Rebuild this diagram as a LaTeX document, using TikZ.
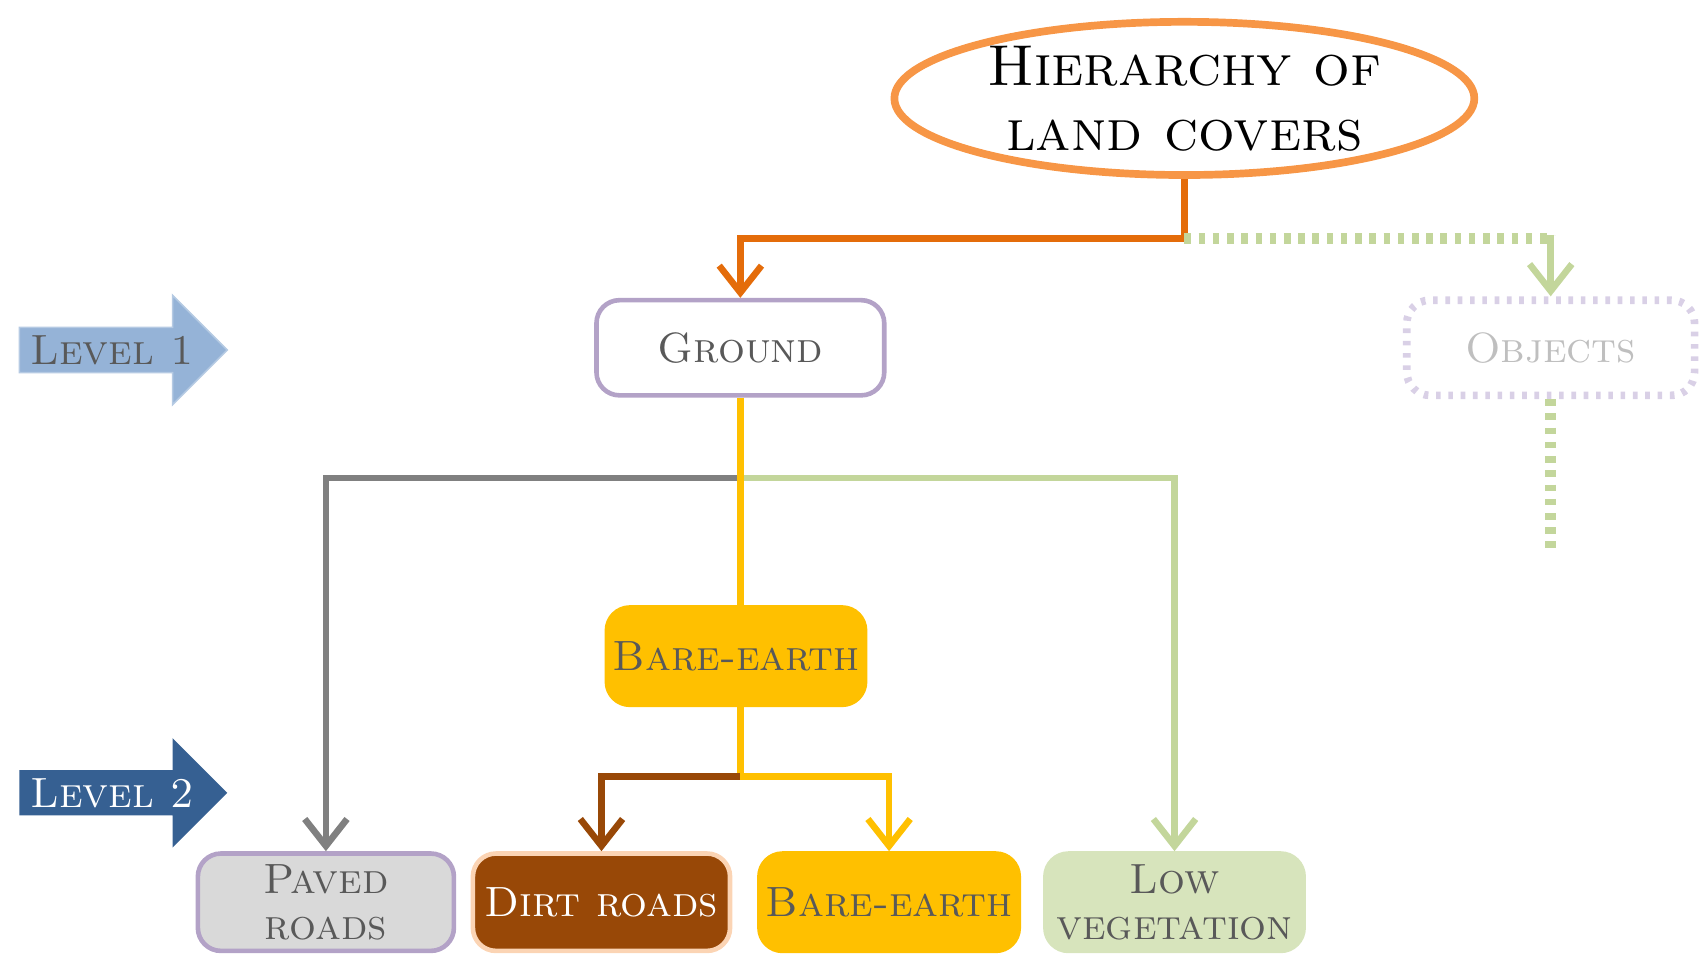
\documentclass[tikz,border=0pt]{standalone}
\usetikzlibrary{arrows.meta,shapes.geometric,shapes.arrows}
\definecolor{orng}{HTML}{F79646}
\definecolor{dorng}{HTML}{E46C0A}
\definecolor{lgreen}{HTML}{C3D69B}
\definecolor{lpurp}{HTML}{B3A2C7}
\definecolor{vlpurp}{HTML}{D9D0E6}
\definecolor{yell}{HTML}{FFC000}
\definecolor{brwn}{HTML}{984807}
\definecolor{lblue}{HTML}{95B3D7}
\definecolor{dblue}{HTML}{366092}
\definecolor{txtgrey}{HTML}{595959}
\definecolor{vegfill}{HTML}{D7E4BC}
\definecolor{peach}{HTML}{FBD4B4}
\tikzset{
	box/.style={draw, rounded corners=6pt, line width=1.2pt, minimum width=2.6cm, minimum height=0.87cm, align=center, font=\fontsize{11}{12}\selectfont\scshape, text=txtgrey, inner sep=0pt},
	wire/.style={line width=1.7pt},
	tip/.style={-{Straight Barb[length=7pt,width=11pt,line width=1.7pt]}},
	level/.style={single arrow, minimum height=1.9cm, minimum width=1.0cm, single arrow head extend=0.25cm, font=\fontsize{11}{12}\selectfont\scshape, inner sep=1pt, anchor=west},
}
\begin{document}
\begin{tikzpicture}[x=0.01cm,y=-0.01cm]
	\useasboundingbox (0,0) rectangle (1560,885);
	% Root and level markers:
	\draw node[ellipse, draw=orng, line width=2pt, minimum width=5.3cm, minimum height=1.4cm, inner sep=0pt, align=center, font=\fontsize{15}{17}\selectfont\scshape] (Root) at (1083,90) {Hierarchy of\\land covers};
	\draw node[level, fill=lblue, draw=lblue!70, text=txtgrey] (L1) at (17,320) {Level 1\hspace{0.45cm}};
	\draw node[level, fill=dblue, text=white] (L2) at (17,725) {Level 2\hspace{0.45cm}};
	% Boxes:
	\draw node[box, draw=lpurp, fill=white, minimum width=2.63cm] (Ground) at (677,318) {Ground};
	\draw node[box, draw=vlpurp, dotted, line width=2pt, text=black!25, minimum width=2.63cm] (Objects) at (1418,318) {Objects};
	\draw node[box, draw=yell, fill=yell, minimum width=2.36cm, minimum height=0.89cm] (Bare) at (673,600) {Bare-earth};
	\draw node[box, draw=lpurp, fill=black!15, minimum width=2.34cm, minimum height=0.89cm] (Paved) at (298,825) {Paved\\roads};
	\draw node[box, draw=peach, fill=brwn, text=white, minimum width=2.35cm, minimum height=0.89cm] (Dirt) at (550,825) {Dirt roads};
	\draw node[box, draw=yell, fill=yell, minimum width=2.37cm, minimum height=0.89cm] (BareB) at (813,825) {Bare-earth};
	\draw node[box, draw=vegfill, fill=vegfill, minimum width=2.36cm, minimum height=0.89cm] (Veg) at (1074,825) {Low\\vegetation};
	% Connectors:
	\coordinate (J1) at (1083,218);
	\coordinate (J2) at (677,437);
	\coordinate (J3) at (677,710);
	\coordinate (E1) at (1418,502);
	\draw[wire, dorng] (Root.south) -- (J1);
	\draw[wire, dorng, tip] (J1) -| (Ground.north);
	\draw[wire, lgreen, dotted, line width=3pt] (J1) -| ([yshift=16pt]Objects.north);
	\draw[wire, lgreen, tip] ([yshift=16pt]Objects.north) -- (Objects.north);
	\draw[wire, lgreen, dotted, line width=3pt] (Objects.south) -- (E1);
	\draw[wire, black!50, tip] (J2) -| (Paved.north);
	\draw[wire, lgreen, tip] (J2) -| (Veg.north);
	\draw[wire, yell] (Ground.south) -- (Bare.north -| J2);
	\draw[wire, yell] (Bare.south -| J3) -- (J3);
	\draw[wire, brwn, tip] (J3) -| (Dirt.north);
	\draw[wire, yell, tip] (J3) -| (BareB.north);
\end{tikzpicture}
\end{document}
